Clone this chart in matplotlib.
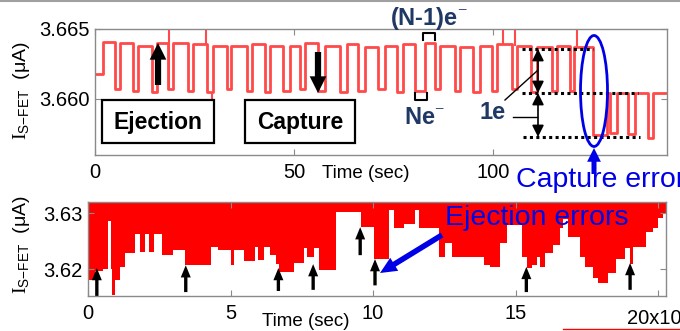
import matplotlib
matplotlib.use('Agg')
import matplotlib.pyplot as plt
from matplotlib.patches import Ellipse, Rectangle, FancyArrowPatch
from matplotlib.lines import Line2D

plt.rcParams['font.family'] = ['Liberation Sans', 'DejaVu Sans']
plt.rcParams['mathtext.fontset'] = 'custom'
plt.rcParams['mathtext.rm'] = 'Liberation Serif'
plt.rcParams['mathtext.sf'] = 'Liberation Sans'
plt.rcParams['mathtext.it'] = 'Liberation Sans:italic'

W, H = 680, 331

# ---------------- top panel data (single-electron transfer trace) -------------
start_level = 3.6618
first_rise = 2.1
drop_t = [5.0, 9.5, 14.3, 18.3, 23.4, 28.1, 33.2, 38.2, 42.7, 47.2, 51.5, 56.0, 61.6,
          66.1, 71.1, 75.9, 80.4, 85.4, 90.5, 95.0, 99.7, 104.8, 109.5, 114.8, 119.3]
rise_t = [6.3, 10.8, 15.6, 19.6, 24.6, 29.6, 34.2, 39.4, 44.0, 49.0, 52.8, 57.8, 63.3,
          67.8, 72.9, 77.4, 82.9, 86.7, 91.7, 96.7, 101.0, 106.0, 111.1, 116.1, 120.4]
high_lv = [3.6641, 3.6640, 3.6638, 3.6640, 3.6640, 3.6639, 3.6638, 3.6638, 3.6639,
           3.6638, 3.6638, 3.6640, 3.6638, 3.6639, 3.6637, 3.6638, 3.6639, 3.6640,
           3.6638, 3.6637, 3.6638, 3.6639, 3.6638, 3.6637, 3.6638, 3.6637]
low_lv = [3.6607, 3.6606, 3.6605, 3.6607, 3.6606, 3.6605, 3.6607, 3.6606, 3.6605,
          3.6606, 3.6607, 3.6606, 3.6605, 3.6606, 3.6607, 3.6605, 3.6606, 3.6607,
          3.6606, 3.6605, 3.6606, 3.6607, 3.6605, 3.6606, 3.6606]
err_drop_t, err_rise_t = 125.1, 128.6
err_low = 3.6574
mid_lv = 3.6604
dip_start = [129.4, 133.9, 139.0]
dip_end = [131.1, 135.6, 140.3]
dip_lv = [3.6576, 3.6575, 3.6572]
t_end = 143.7
spike_t = [18.6, 27.9, 29.4, 102.5, 105.5, 121.1]
spike_from = [3.6607, 3.6639, 3.6605, 3.6639, 3.6638, 3.6638]
spike_to = [3.6650, 3.6650, 3.6597, 3.6650, 3.6650, 3.6650]

# ---------------- bottom panel data (lower envelope of dense trace) ----------
env_t = [0, 0.24, 0.54, 0.69, 0.80, 0.85, 0.95, 1.12, 1.29, 1.64,
         1.82, 1.99, 2.14, 2.32, 2.60, 2.98, 3.39, 4.32, 4.56, 5.02,
         5.14, 5.49, 5.86, 5.98, 6.19, 6.39, 6.60, 6.71, 7.24, 7.59,
         7.70, 7.94, 8.11, 8.69, 9.57, 10.03, 10.56, 10.73, 11.08, 11.49,
         11.61, 12.31, 12.54, 12.77, 13.88, 14.11, 14.47, 14.70, 15.22, 15.40,
         15.57, 15.75, 15.86, 16.04, 16.33, 16.56, 16.68, 16.85, 17.26, 17.44,
         17.73, 17.90, 18.25, 18.54, 18.84, 19.01, 19.13, 19.59, 19.83, 20.00,
         20.17]
env_v = [3.6180, 3.6196, 3.6200, 3.6286, 3.6200, 3.6153, 3.6180, 3.6204, 3.6229, 3.6262,
         3.6230, 3.6262, 3.6230, 3.6262, 3.6226, 3.6234, 3.6207, 3.6240, 3.6234, 3.6207,
         3.6234, 3.6215, 3.6240, 3.6217, 3.6240, 3.6225, 3.6210, 3.6195, 3.6211, 3.6238,
         3.6222, 3.6238, 3.6198, 3.6303, 3.6276, 3.6219, 3.6305, 3.6274, 3.6280, 3.6305,
         3.6274, 3.6222, 3.6246, 3.6222, 3.6207, 3.6204, 3.6246, 3.6279, 3.6222, 3.6202,
         3.6207, 3.6222, 3.6204, 3.6228, 3.6243, 3.6273, 3.6290, 3.6258, 3.6222, 3.6204,
         3.6184, 3.6175, 3.6193, 3.6219, 3.6238, 3.6210, 3.6240, 3.6267, 3.6274, 3.6291,
         3.6300]
env_end = 20.28
arr_t = [0.31, 3.43, 6.68, 7.90, 9.55, 10.07, 15.38, 19.02]
arr_lo = [3.6152, 3.6159, 3.6161, 3.6163, 3.6225, 3.6171, 3.6159, 3.6163]
arr_hi = [3.6202, 3.6207, 3.6202, 3.6209, 3.6275, 3.6218, 3.6204, 3.6211]

top_xticks = [0, 50, 100]
top_yticks = [3.660, 3.665]
top_yticklabels = ['3.660', '3.665']
bot_xticks = [0, 5, 10, 15, 20]
bot_xticklabels = ['0', '5', '10', '15', '']
bot_yticks = [3.62, 3.63]
bot_yticklabels = ['3.62', '3.63']

# ---------------------------------------------------------------------------
fig = plt.figure(figsize=(W / 100, H / 100), dpi=100)


def fx(x):
    return x / W


def fy(y):
    return 1 - y / H


def ax_rect(l, t, r, b):
    return [fx(l), fy(b), (r - l) / W, (b - t) / H]


GRAY = '#8a8a8a'
NAVY = '#1f3864'
BLUE = '#0000e6'


def style_axes(ax):
    for s in ax.spines.values():
        s.set_color(GRAY)
        s.set_linewidth(1.0)
    ax.tick_params(direction='in', length=4, width=0.8, color=GRAY,
                   top=True, right=True, labelsize=14.5)
    ax.tick_params(axis='x', pad=6)
    ax.tick_params(axis='y', pad=4)


# ---------------- top axes ----------------
ax1 = fig.add_axes(ax_rect(95, 29, 667, 155))
ts = [0, first_rise]
vs = [start_level, high_lv[0]]
for i in range(len(drop_t)):
    ts += [drop_t[i], rise_t[i]]
    vs += [low_lv[i], high_lv[i + 1]]
ts += [err_drop_t, err_rise_t]
vs += [err_low, mid_lv]
for a, b, lv in zip(dip_start, dip_end, dip_lv):
    ts += [a, b]
    vs += [lv, mid_lv]
ts += [t_end]
vs += [mid_lv]
ax1.step(ts, vs, where='post', color='#ff4a4a', lw=2.0)
ax1.vlines(spike_t, spike_from, spike_to, color='#ff4a4a', lw=1.5)
ax1.set_xlim(0, 143.7)
ax1.set_ylim(3.6560, 3.6650)
ax1.set_xticks(top_xticks)
ax1.set_yticks(top_yticks)
ax1.set_yticklabels(top_yticklabels)
style_axes(ax1)

# dotted level lines
ax1.plot([107.3, 125.1], [3.6636, 3.6636], color='k', lw=2.2, ls=(0, (1, 1.1)))
ax1.plot([107.3, 136.4], [3.6604, 3.6604], color='k', lw=2.2, ls=(0, (1, 1.1)))
ax1.plot([107.5, 136.9], [3.6573, 3.6573], color='k', lw=2.2, ls=(0, (1, 1.1)))

# ---------------- bottom axes ----------------
ax2 = fig.add_axes(ax_rect(88, 202, 666, 296))
fx_t = env_t + [env_end]
fx_v = env_v + [env_v[-1]]
ax2.fill_between(fx_t, fx_v, 3.6330, step='post', color='#ff0000', lw=0)
ax2.set_xlim(0, env_end)
ax2.set_ylim(3.6152, 3.6320)
ax2.set_xticks(bot_xticks)
ax2.set_xticklabels(bot_xticklabels)
ax2.set_yticks(bot_yticks)
ax2.set_yticklabels(bot_yticklabels)
style_axes(ax2)
for t, lo, hi in zip(arr_t, arr_lo, arr_hi):
    ax2.add_patch(FancyArrowPatch((t, lo), (t, hi),
                                  arrowstyle='simple,head_width=0.9,head_length=1.1,tail_width=0.3',
                                  mutation_scale=8, color='k', lw=0,
                                  shrinkA=0, shrinkB=0))

# ---------------- overlay annotations (figure pixel coords) ----------------
tf = fig.transFigure


def fline(xs, ys, **kw):
    fig.add_artist(Line2D([fx(x) for x in xs], [fy(y) for y in ys], transform=tf, **kw))


def farrow(p0, p1, style, ms, color, lw=0):
    fig.add_artist(FancyArrowPatch((fx(p0[0]), fy(p0[1])), (fx(p1[0]), fy(p1[1])),
                                   transform=tf, arrowstyle=style, mutation_scale=ms,
                                   color=color, lw=lw, shrinkA=0, shrinkB=0))


# top gray rule and bottom red rule
fline([0, 680], [0.6, 0.6], color='#a0a0a0', lw=1.5)
fline([563, 680], [329, 329], color='#ff0000', lw=1.0)

# y labels
ylab = r'$\mathrm{I}_{\mathsf{S{-}FET}}$  (μA)'
fig.text(fx(22), fy(91), ylab, rotation=90, ha='center', va='center', fontsize=14)
fig.text(fx(22), fy(245), ylab, rotation=90, ha='center', va='center', fontsize=14)

# x labels
fig.text(fx(322), fy(173), 'Time (sec)', ha='left', va='center', fontsize=13.5)
fig.text(fx(262), fy(321), 'Time (sec)', ha='left', va='center', fontsize=13.5)
fig.text(fx(627), fy(318), '20x10', ha='left', va='center', fontsize=14.5)

# boxes
for (l, t, r, b, s) in [(102, 100, 214, 143, 'Ejection'), (245, 100, 355, 143, 'Capture')]:
    fig.add_artist(Rectangle((fx(l), fy(b)), (r - l) / W, (b - t) / H, transform=tf,
                             fill=True, facecolor='white', edgecolor='k', lw=1.6))
    fig.text(fx((l + r) / 2), fy((t + b) / 2 + 1), s, ha='center', va='center',
             fontsize=16.5, fontweight='bold')

# big black arrows
farrow((158, 85), (158, 43), 'simple,head_width=1.2,head_length=1.2,tail_width=0.45', 10, 'k')
farrow((318, 52), (318, 93), 'simple,head_width=1.2,head_length=1.2,tail_width=0.45', 10, 'k')

# double arrows for 1e
farrow((538, 49), (538, 93), '<|-|>,head_width=0.35,head_length=0.7', 10, 'k', lw=1.2)
farrow((538, 93), (538, 137), '<|-|>,head_width=0.35,head_length=0.7', 10, 'k', lw=1.2)
fline([505, 537], [100, 71], color='k', lw=1.0)
fline([513, 537], [117, 117], color='k', lw=1.0)

# brackets
fline([415, 415, 427, 427], [93, 100, 100, 93], color='k', lw=1.5)
fline([423, 423, 435, 435], [40, 33, 33, 40], color='k', lw=1.5)

# navy labels
fig.text(fx(390), fy(19), r'(N-1)e$^{-}$', ha='left', va='center', fontsize=17,
         fontweight='bold', color=NAVY)
fig.text(fx(404), fy(118), r'Ne$^{-}$', ha='left', va='center', fontsize=17,
         fontweight='bold', color=NAVY)
fig.text(fx(479), fy(112), '1e', ha='left', va='center', fontsize=17,
         fontweight='bold', color=NAVY)

# capture error ellipse + arrow
fig.add_artist(Ellipse((fx(594), fy(91)), 27 / W, 111 / H, transform=tf,
                       fill=False, edgecolor=BLUE, lw=2))
farrow((594, 174), (594, 148), 'simple,head_width=1.1,head_length=1.1,tail_width=0.4', 9, BLUE)
fig.text(fx(516), fy(180), 'Capture error', ha='left', va='center', fontsize=20.5,
         color=BLUE)

# ejection errors
fig.text(fx(445), fy(218), 'Ejection errors', ha='left', va='center', fontsize=20.5,
         color=BLUE)
farrow((442, 235), (380, 273), 'simple,head_width=1.1,head_length=1.2,tail_width=0.4', 10, BLUE)

fig.savefig('out.png', dpi=100)
